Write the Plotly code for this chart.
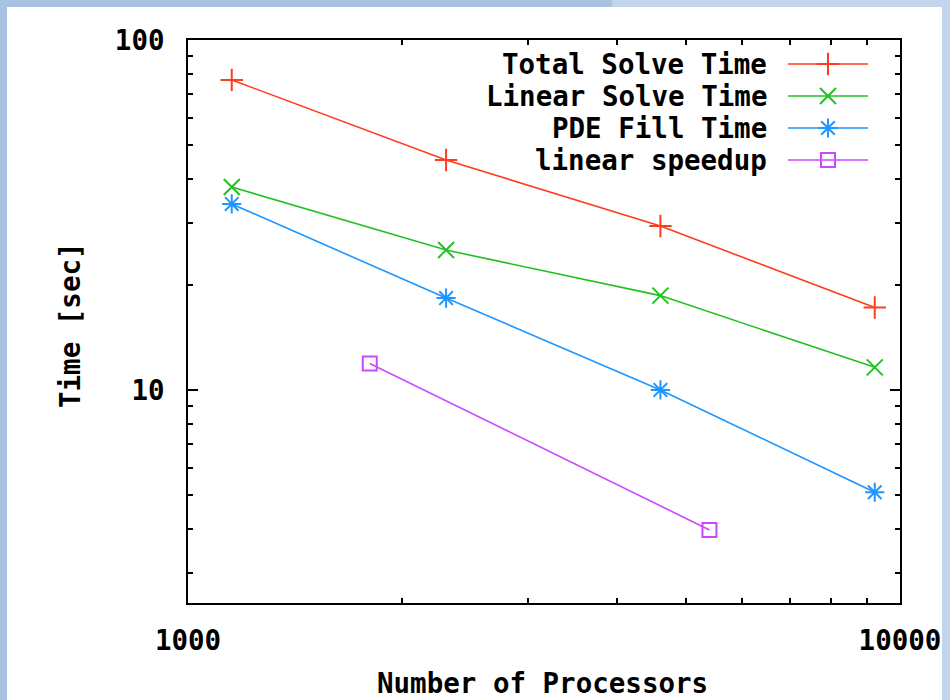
import plotly.graph_objects as go

# ---- data ----
processors = [1152, 2304, 4608, 9216]
total_solve = [76.9, 45.4, 29.4, 17.2]
linear_solve = [38.0, 25.1, 18.6, 11.6]
pde_fill = [34.0, 18.3, 10.0, 5.1]
speedup_x = [1800, 5400]
speedup_y = [11.9, 3.98]

names = ["Total Solve Time", "Linear Solve Time", "PDE Fill Time", "linear speedup"]
colors = ["#ff3c1e", "#22c022", "#1e96ff", "#cc48ff"]
symbols = ["cross-thin-open", "x-thin-open", "asterisk-open", "square-open"]
msizes = [16, 16, 16, 14]

x_ticks = [1000, 10000]
x_ticktext = ["1000", "10000"]
x_minor = [2000, 3000, 4000, 5000, 6000, 7000, 8000, 9000]
y_ticks = [10, 100]
y_ticktext = ["10", "100"]
y_minor = [3, 4, 5, 6, 7, 8, 9, 20, 30, 40, 50, 60, 70, 80, 90]

FONT = "DejaVu Sans Mono"
FS = 27.5

# plot area in pixels
L, R, T, B = 188, 900, 40, 603
W, H = 950, 700
def px(x):
    return (x - L) / (R - L)
def py(y):
    return (B - y) / (B - T)

fig = go.Figure()
series = [(processors, total_solve), (processors, linear_solve), (processors, pde_fill), (speedup_x, speedup_y)]
for (xs, ys), n, c, s, m in zip(series, names, colors, symbols, msizes):
    fig.add_trace(go.Scatter(
        x=xs, y=ys, mode="lines+markers", name=n,
        line=dict(color=c, width=1.6),
        marker=dict(symbol=s, size=m, color=c, line=dict(color=c, width=2)),
        showlegend=False, cliponaxis=False,
    ))

# custom gnuplot-style key
key_rows = [64, 96, 128, 160]
key_text_right = 769
key_line = (788, 868)
key_marker_x = 828
annotations = []
shapes = []
for n, c, s, m, yy in zip(names, colors, symbols, msizes, key_rows):
    annotations.append(dict(
        x=px(key_text_right), y=py(yy), xref="paper", yref="paper",
        text=n, showarrow=False, xanchor="right", yanchor="middle",
        font=dict(family=FONT, size=FS, color="black", weight="bold"),
    ))
    shapes.append(dict(type="line", xref="paper", yref="paper",
                       x0=px(key_line[0]), x1=px(key_line[1]), y0=py(yy), y1=py(yy),
                       line=dict(color=c, width=1.6)))
    fig.add_trace(go.Scatter(
        x=[px(key_marker_x)], y=[py(yy)], xaxis="x2", yaxis="y2", mode="markers",
        marker=dict(symbol=s, size=m, color=c, line=dict(color=c, width=2)),
        showlegend=False, hoverinfo="skip", cliponaxis=False,
    ))

# axis titles
annotations.append(dict(
    x=px(542), y=py(683), xref="paper", yref="paper", text="Number of Processors",
    showarrow=False, xanchor="center", yanchor="middle",
    font=dict(family=FONT, size=FS, color="black", weight="bold")))
annotations.append(dict(
    x=px(70), y=py(325), xref="paper", yref="paper", text="Time [sec]", textangle=-90,
    showarrow=False, xanchor="center", yanchor="middle",
    font=dict(family=FONT, size=FS, color="black", weight="bold")))

# white slide panel and blue borders
BLUE = "#a8c2e2"
LIGHT = "#c2d5ec"
shapes.insert(0, dict(type="rect", xref="paper", yref="paper", layer="below",
                      x0=px(7), x1=px(942), y0=py(7), y1=py(W),
                      fillcolor="white", line=dict(width=0)))
shapes.append(dict(type="rect", xref="paper", yref="paper", layer="above",
                   x0=px(942), x1=px(W + 10), y0=py(-10), y1=py(H + 10),
                   fillcolor=LIGHT, line=dict(width=0)))
shapes.append(dict(type="rect", xref="paper", yref="paper", layer="below",
                   x0=px(612), x1=px(W + 10), y0=py(-10), y1=py(7),
                   fillcolor=LIGHT, line=dict(width=0)))

axis_common = dict(
    showline=True, linecolor="black", linewidth=2, mirror="allticks",
    ticks="inside", ticklen=10, tickwidth=1.5, tickcolor="black",
    showgrid=False, zeroline=False, automargin=False,
    tickfont=dict(family=FONT, size=FS, color="black", weight="bold"),
)

fig.update_layout(
    width=W, height=H,
    margin=dict(l=L, r=W - R, t=T, b=H - B),
    paper_bgcolor=BLUE, plot_bgcolor="white",
    showlegend=False,
    xaxis=dict(type="log", range=[3, 4], tickmode="array", tickvals=x_ticks, ticktext=x_ticktext,
               minor=dict(tickvals=x_minor, ticks="inside", ticklen=5, tickwidth=1.5, tickcolor="black"),
               ticklabelstandoff=12, **axis_common),
    yaxis=dict(type="log", range=[0.391, 2], tickmode="array", tickvals=y_ticks, ticktext=y_ticktext,
               minor=dict(tickvals=y_minor, ticks="inside", ticklen=5, tickwidth=1.5, tickcolor="black"),
               ticklabelstandoff=16, **axis_common),
    xaxis2=dict(range=[0, 1], overlaying="x", anchor="y2", visible=False),
    yaxis2=dict(range=[0, 1], overlaying="y", anchor="x2", visible=False),
    annotations=annotations, shapes=shapes,
)

fig.write_html("out.html")
